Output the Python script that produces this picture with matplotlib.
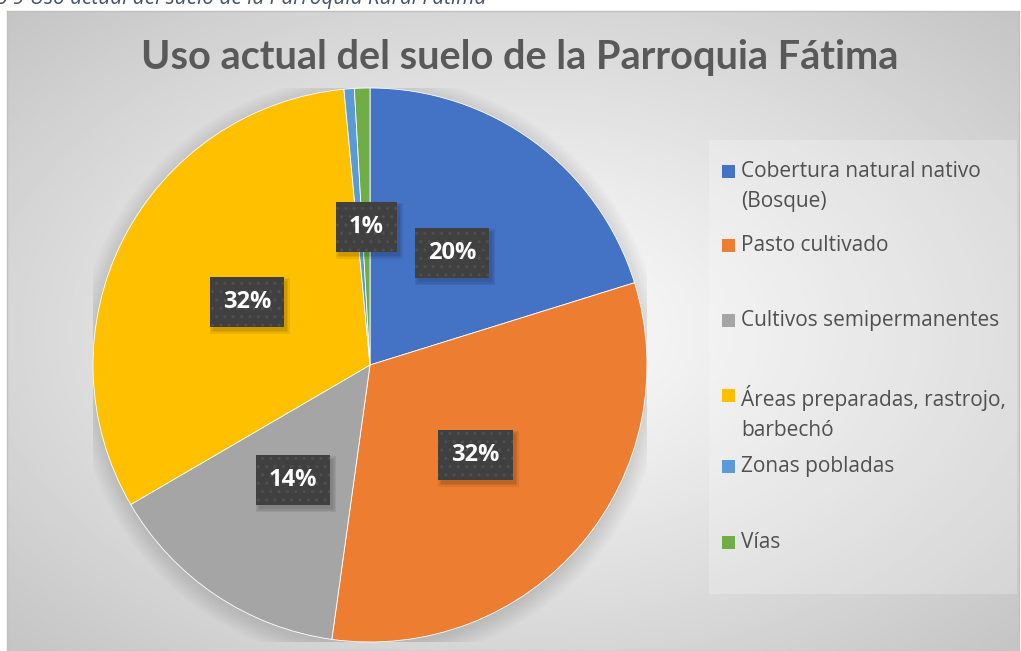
import matplotlib
matplotlib.use('Agg')
import matplotlib.pyplot as plt
import numpy as np
from matplotlib.patches import Rectangle
from matplotlib import transforms

# data (percent of parish area)
categories = ['Cobertura natural nativo\n(Bosque)', 'Pasto cultivado', 'Cultivos semipermanentes',
              'Áreas preparadas, rastrojo,\nbarbechó', 'Zonas pobladas', 'Vías']
shares = [20.2, 32.0, 14.4, 31.9, 0.6, 0.9]
labels = ['20%', '32%', '14%', '32%', '', '1%']
colors = ['#4472C4', '#ED7D31', '#A5A5A5', '#FFC000', '#5B9BD5', '#70AD47']
title = 'Uso actual del suelo de la Parroquia Fátima'
caption = 'o 9 Uso actual del suelo de la Parroquia Rural Fátima'

W, H = 1021, 651
fig = plt.figure(figsize=(W / 100, H / 100), dpi=100)
fig.patch.set_facecolor('white')

def px(x, y):
    # pixel (from top-left) -> figure fraction
    return x / W, 1 - y / H

# chart area with radial gradient
x0, y0, x1, y1 = 7, 11, 1019, 651
bg = fig.add_axes([x0 / W, 1 - y1 / H, (x1 - x0) / W, (y1 - y0) / H])
gx, gy = np.meshgrid(np.linspace(-1, 1, 400), np.linspace(-1, 1, 260))
d = np.sqrt(gx ** 2 + gy ** 2) / np.sqrt(2)
shade = 0.99 - 0.22 * d ** 1.1
bg.imshow(shade, cmap='gray', vmin=0, vmax=1, aspect='auto', extent=[0, 1, 0, 1])
bg.set_xlim(0, 1)
bg.set_ylim(0, 1)
bg.set_xticks([])
bg.set_yticks([])
for s in bg.spines.values():
    s.set_color('#c0c0c0')
    s.set_linewidth(1)

# legend background
lx0, ly0, lx1, ly1 = 709, 140, 1017, 594
fig.patches.append(Rectangle(px(lx0, ly1), (lx1 - lx0) / W, (ly1 - ly0) / H,
                             transform=fig.transFigure, facecolor='white', alpha=0.22,
                             edgecolor='none', zorder=1))

# pie
cx, cy, r = 370, 365, 277
ax = fig.add_axes([(cx - r) / W, 1 - (cy + r) / H, 2 * r / W, 2 * r / H])

# soft shadow under the pie
for k in range(8):
    ax.add_patch(plt.Circle((0.0, -0.015), 1.0 + 0.009 * k, color='black',
                            alpha=0.014, lw=0, zorder=0))

wedges, _ = ax.pie(shares, colors=colors, startangle=90, counterclock=False, radius=1,
                   wedgeprops=dict(linewidth=0.6, edgecolor='white'))
for w in wedges:
    w.set_zorder(2)
ax.set_xlim(-1, 1)
ax.set_ylim(-1, 1)
ax.axis('off')

texts = []
for w, lab in zip(wedges, labels):
    if not lab:
        continue
    ang = np.deg2rad((w.theta1 + w.theta2) / 2)
    tx, ty = 0.5 * np.cos(ang), 0.5 * np.sin(ang)
    t = ax.text(tx, ty, lab, ha='center', va='center', fontsize=17, fontweight='bold',
                family='Open Sans', color='white', zorder=5,
                bbox=dict(boxstyle='square,pad=0.55', fc='#404040', ec='#4f4f4f', lw=0,
                          hatch='..'))
    texts.append(t)

# soft shadows behind the label boxes
fig.canvas.draw()
renderer = fig.canvas.get_renderer()
inv = ax.transData.inverted()
for t in texts:
    bb = t.get_bbox_patch().get_window_extent(renderer)
    for grow in (3, 1.5, 0):
        (a, b), (c, e) = inv.transform([(bb.x0 + 3 - grow, bb.y0 - 4 - grow),
                                        (bb.x1 + 3 + grow, bb.y1 - 4 + grow)])
        ax.add_patch(Rectangle((a, b), c - a, e - b, facecolor='black', alpha=0.07,
                               edgecolor='none', zorder=4))

# title and caption
fig.text(*px(520, 58), title, ha='center', va='center', fontsize=28.5, fontweight='bold',
         family='Lato', color='#595959')
fig.text(*px(-4, 4), caption, ha='left', va='baseline', fontsize=15, style='italic',
         family='Open Sans', color='#44546A')

# legend
entry_y = [171, 245, 320, 395, 466, 542]
for lab, c, ey in zip(categories, colors, entry_y):
    fig.patches.append(Rectangle(px(722, ey + 7), 13 / W, 13 / H, transform=fig.transFigure,
                                 facecolor=c, edgecolor='none', zorder=3))
    fig.text(*px(741, ey), lab, ha='left', va='top', fontsize=15, family='Open Sans',
             color='#505050', linespacing=1.55,
             transform=transforms.offset_copy(fig.transFigure, fig=fig, y=10, units='dots'))

fig.savefig('out.png', dpi=100)
